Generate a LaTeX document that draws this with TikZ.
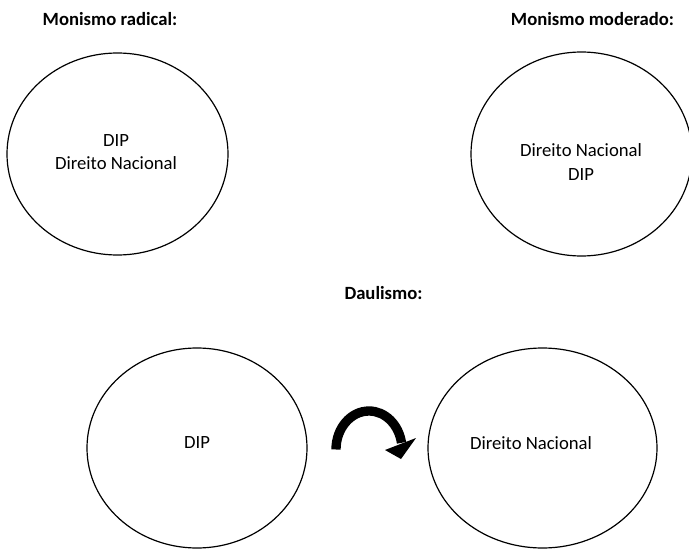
\documentclass[tikz,border=0pt]{standalone}
\usepackage{fontspec}
\setmainfont{Carlito}
\usetikzlibrary{shapes.geometric}
\begin{document}
\begin{tikzpicture}[x=0.75pt,y=-0.75pt,
  circ/.style={draw,ellipse,line width=0.9pt,inner sep=0pt},
  txt/.style={align=center,font=\fontsize{14pt}{17.3pt}\selectfont,inner sep=0pt},
  ttl/.style={font=\fontsize{14pt}{17pt}\selectfont\bfseries,inner sep=0pt}]
\useasboundingbox (0,0) rectangle (689,549);
% titles
\node[ttl] (t1) at (110,19) {Monismo radical:};
\node[ttl] (t2) at (592.5,19) {Monismo moderado:};
\node[ttl] (t3) at (383.5,293) {Daulismo:};
% ellipses
\node[circ,minimum width=221*0.75pt,minimum height=202*0.75pt] (e1) at (117.5,154) {};
\node[circ,minimum width=221*0.75pt,minimum height=204*0.75pt] (e2) at (581.5,154) {};
\node[circ,minimum width=220*0.75pt,minimum height=200*0.75pt] (e3) at (197,448) {};
\node[circ,minimum width=229*0.75pt,minimum height=200*0.75pt] (e4) at (542.5,448) {};
% texts
\node[txt] (x1) at (116,152) {DIP\\Direito Nacional};
\node[txt] (x2) at (581,162) {Direito Nacional\\DIP};
\node[txt] (x3) at (197,443) {DIP};
\node[txt] (x4) at (531,443) {Direito Nacional};
% curved arrow
\coordinate (as) at (336,449.5);
\draw[line width=7pt] (as) arc[start angle=180,end angle=350,x radius=33,y radius=38.5] coordinate (ae);
\fill (385,450) -- (416,438) -- (401,459) -- cycle;
\end{tikzpicture}
\end{document}
